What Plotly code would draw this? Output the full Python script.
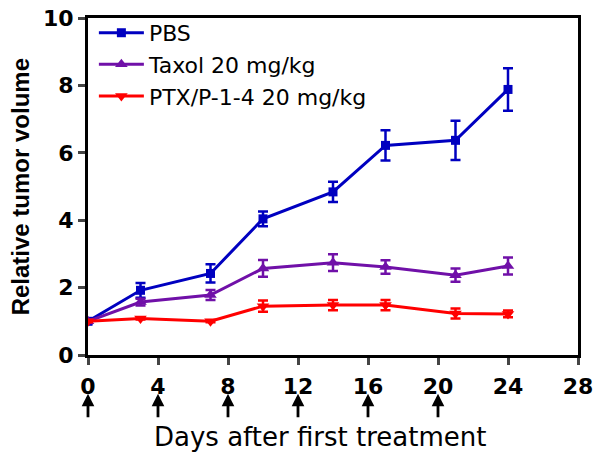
import plotly.graph_objects as go

days = [0, 3, 7, 10, 14, 17, 21, 24]
pbs = [1.0, 1.92, 2.42, 4.04, 4.84, 6.22, 6.37, 7.88]
pbs_err = [0.05, 0.22, 0.27, 0.22, 0.30, 0.45, 0.58, 0.63]
taxol = [1.0, 1.57, 1.78, 2.57, 2.74, 2.61, 2.37, 2.64]
taxol_err = [0.05, 0.10, 0.15, 0.25, 0.25, 0.20, 0.20, 0.25]
ptx = [1.0, 1.08, 1.0, 1.45, 1.48, 1.48, 1.23, 1.22]
ptx_err = [0.03, 0.03, 0.03, 0.17, 0.15, 0.15, 0.15, 0.10]
treat_days = [0, 4, 8, 12, 16, 20]
xticks = [0, 4, 8, 12, 16, 20, 24, 28]
yticks = [0, 2, 4, 6, 8, 10]

series = [
    ("PBS", pbs, pbs_err, "#0000C0", "square", 9),
    ("Taxol 20 mg/kg", taxol, taxol_err, "#7010A8", "triangle-up", 11),
    ("PTX/P-1-4 20 mg/kg", ptx, ptx_err, "#FF0000", "triangle-down", 11),
]

fig = go.Figure()
for name, vals, err, col, sym, sz in series:
    fig.add_trace(go.Scatter(
        x=days, y=vals, name=name, mode="lines+markers",
        line=dict(color=col, width=3),
        marker=dict(symbol=sym, size=sz, color=col),
        error_y=dict(type="data", array=err, visible=True, color=col,
                     thickness=2.5, width=5),
    ))

for d in treat_days:
    fig.add_annotation(
        x=d, xref="x", y=-0.115, yref="paper",
        ax=0, ay=25, showarrow=True, arrowhead=2, arrowsize=0.9,
        arrowwidth=2.8, arrowcolor="black", text="",
    )

wide = "DejaVu Sans, sans-serif"
arial = "Liberation Sans, Arial, sans-serif"

fig.add_annotation(
    text="Days after first treatment", xref="paper", yref="paper",
    x=0.473, y=-0.242, xanchor="center", yanchor="middle", showarrow=False,
    font=dict(size=26, family=wide, color="black"),
)
fig.add_annotation(
    text="<b>Relative tumor volume</b>", xref="paper", yref="paper",
    x=-0.137, y=0.5, xanchor="center", yanchor="middle", showarrow=False,
    textangle=-90, font=dict(size=24, family=arial, color="black"),
)

tickfont = dict(size=22, family=wide, weight="bold", color="black")
fig.update_layout(
    width=600, height=458,
    margin=dict(l=88, r=22, t=16, b=103),
    plot_bgcolor="white", paper_bgcolor="white",
    font=dict(family=wide, color="black"),
    showlegend=True,
    legend=dict(x=0.012, y=1.018, xanchor="left", yanchor="top",
                font=dict(size=22, family=wide, color="black"),
                bgcolor="rgba(0,0,0,0)", itemwidth=45),
    xaxis=dict(range=[0, 28], tickvals=xticks, ticks="outside", ticklen=7,
               tickwidth=2.5, showline=True, linewidth=3, linecolor="black",
               mirror=True, showgrid=False, zeroline=False, automargin=False,
               ticklabelstandoff=3, tickfont=tickfont),
    yaxis=dict(range=[0, 10], tickvals=yticks, ticks="outside", ticklen=7,
               tickwidth=2.5, showline=True, linewidth=3, linecolor="black",
               mirror=True, showgrid=False, zeroline=False, automargin=False,
               tickfont=tickfont),
)

fig.write_html("out.html", config={"displayModeBar": False},
               post_script="document.body.style.margin='0';")
